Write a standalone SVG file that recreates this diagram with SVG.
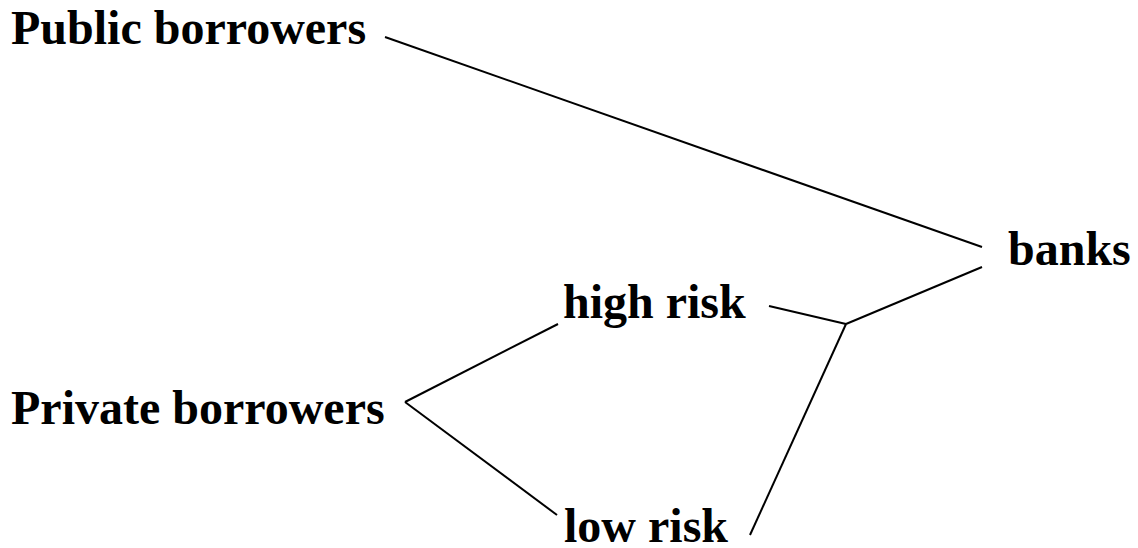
<svg xmlns="http://www.w3.org/2000/svg" width="1138" height="548" viewBox="0 0 1138 548">
<style>
text{font-family:"Liberation Serif","Times New Roman",serif;font-weight:bold;font-size:48px;fill:#000}
.c line{stroke:#000;stroke-width:2;fill:none}
</style>
<rect width="1138" height="548" fill="#fff"/>
<g class="c" id="connectors">
<line x1="385" y1="37" x2="982" y2="247"/>
<line x1="982" y1="267" x2="846" y2="324"/>
<line x1="769" y1="306" x2="846" y2="324"/>
<line x1="846" y1="324" x2="750" y2="535"/>
<line x1="405" y1="402" x2="558" y2="324"/>
<line x1="405" y1="402" x2="557" y2="515"/>
</g>
<g id="public"><text x="11" y="44">Public borrowers</text></g>
<g id="private"><text x="11" y="424">Private borrowers</text></g>
<g id="high"><text x="563" y="318">high risk</text></g>
<g id="low"><text x="564" y="542">low risk</text></g>
<g id="banks"><text x="1008" y="265">banks</text></g>
</svg>
